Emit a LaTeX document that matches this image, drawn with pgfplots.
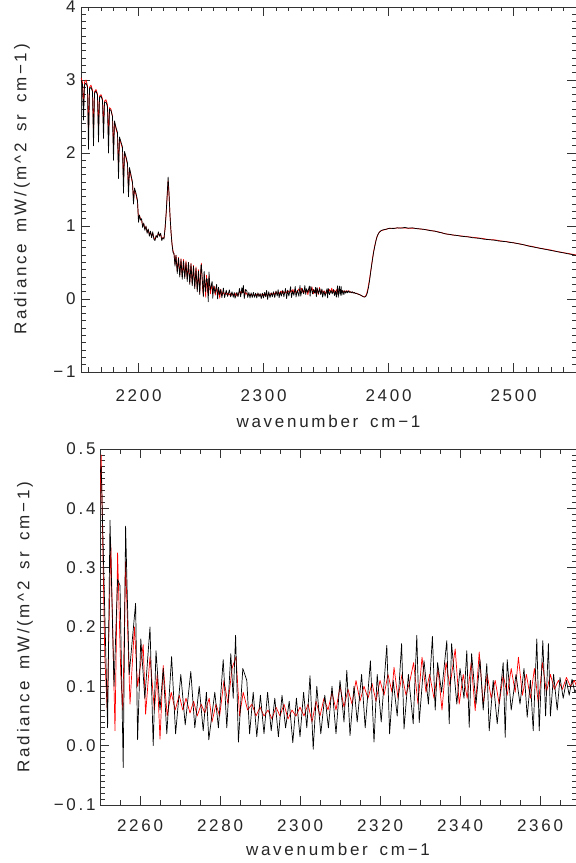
\documentclass[border=0pt]{standalone}
\usepackage{fontspec}
\setmainfont{Liberation Sans}[LetterSpace=16]
\usepackage{pgfplots}
\usepackage{pgfplotstable}
\pgfplotsset{compat=1.18}

% black spectrum
\pgfplotstableread{
x y
2154.0 3.00
2155.2 2.94
2156.0 2.45
2156.8 2.93
2158.0 2.96
2159.2 2.90
2160.0 2.05
2160.8 2.88
2162.0 2.90
2163.2 2.84
2164.0 2.10
2164.8 2.82
2166.0 2.85
2167.2 2.79
2168.0 2.15
2168.8 2.76
2170.0 2.78
2171.2 2.72
2172.0 2.20
2172.8 2.69
2174.0 2.70
2175.2 2.63
2176.0 2.00
2176.8 2.60
2178.0 2.58
2179.2 2.50
2180.0 1.90
2180.8 2.44
2182.0 2.35
2183.2 2.28
2184.0 1.65
2184.8 2.22
2186.0 2.15
2187.2 2.08
2188.0 1.45
2188.8 2.02
2190.0 1.95
2191.2 1.86
2192.0 1.40
2192.8 1.80
2194.0 1.70
2195.2 1.60
2196.0 1.30
2196.8 1.52
2198.0 1.45
2199.2 1.35
2200.0 1.05
2200.8 1.15
2201.6 1.08
2202.5 1.10
2203.3 0.98
2204.2 1.04
2205.1 0.94
2206.0 1.00
2206.9 0.90
2207.8 0.96
2208.7 0.86
2209.6 0.93
2210.5 0.84
2211.4 0.92
2212.3 0.82
2213.2 0.80
2214.1 0.87
2215.0 0.84
2215.9 0.92
2216.8 0.86
2217.7 0.90
2218.6 0.80
2219.5 0.84
2220.4 0.82
2221.3 0.98
2222.2 1.20
2223.0 1.45
2223.7 1.67
2224.4 1.45
2225.2 1.15
2226.0 0.92
2226.8 0.75
2227.6 0.64
2228.4 0.62
2229.2 0.45
2230.0 0.60
2231.0 0.35
2232.0 0.56
2233.0 0.30
2234.0 0.54
2235.0 0.27
2236.0 0.52
2237.0 0.28
2238.0 0.50
2239.0 0.24
2240.0 0.50
2241.0 0.20
2242.0 0.48
2243.0 0.18
2244.0 0.45
2245.0 0.14
2246.0 0.42
2247.0 0.10
2248.0 0.38
2249.0 0.06
2249.6 0.30
2250.0 0.46
2250.3 0.47
2251.9 0.03
2252.5 0.38
2253.5 0.10
2254.4 0.28
2255.0 0.27
2255.8 -0.037
2256.4 0.37
2257.3 0.12
2258.9 0.24
2259.4 0.01
2260.2 0.18
2261.2 0.08
2262.5 0.20
2263.3 0.00
2264.0 0.16
2265.0 0.06
2265.8 0.13
2266.7 0.02
2267.9 0.15
2268.9 0.02
2270.2 0.12
2271.3 0.035
2272.7 0.125
2273.7 0.03
2274.8 0.10
2275.8 0.025
2276.6 0.09
2277.2 0.01
2278.7 0.09
2279.6 0.03
2280.8 0.145
2281.7 0.03
2282.7 0.155
2283.3 0.08
2283.9 0.186
2284.6 0.006
2285.7 0.13
2286.7 0.11
2287.4 0.02
2288.3 0.09
2289.2 0.015
2290.1 0.085
2291.0 0.02
2291.9 0.09
2292.8 0.025
2293.7 0.08
2294.6 0.015
2295.5 0.085
2296.4 0.03
2297.3 0.075
2298.2 0.005
2299.1 0.08
2300.0 0.015
2300.9 0.09
2301.7 0.03
2302.5 0.118
2303.3 -0.006
2304.2 0.10
2305.2 0.02
2306.2 0.085
2307.1 0.03
2308.0 0.10
2309.0 0.02
2310.0 0.11
2311.0 0.04
2311.7 0.127
2312.5 0.017
2313.5 0.10
2314.3 0.04
2315.4 0.12
2316.3 0.03
2317.6 0.143
2318.5 0.006
2319.3 0.12
2320.3 0.04
2321.7 0.169
2322.4 0.02
2323.3 0.11
2324.3 0.05
2325.4 0.172
2326.0 0.028
2327.1 0.12
2328.3 0.037
2329.2 0.186
2329.8 0.039
2331.0 0.143
2332.1 0.07
2333.1 0.184
2333.8 0.06
2334.4 0.14
2335.4 0.09
2336.7 0.177
2337.3 0.037
2337.9 0.172
2339.2 0.07
2340.0 0.13
2341.0 0.08
2341.7 0.16
2342.3 0.031
2342.9 0.155
2344.0 0.07
2345.0 0.145
2345.8 0.06
2346.7 0.138
2347.3 0.025
2348.3 0.11
2349.3 0.037
2350.8 0.14
2351.3 0.014
2351.8 0.145
2352.8 0.06
2354.0 0.12
2355.0 0.07
2356.0 0.13
2356.8 0.048
2357.6 0.11
2358.3 0.025
2359.2 0.18
2359.8 0.025
2360.7 0.177
2361.4 0.05
2362.1 0.172
2362.6 0.05
2363.4 0.12
2364.3 0.06
2365.0 0.115
2365.8 0.08
2366.6 0.11
2367.3 0.085
2368.0 0.112
2368.7 0.09
2369.5 0.10
2370.3 0.085
2371.0 0.10
2371.8 0.08
2372.6 0.09
2373.4 0.075
2374.2 0.08
2375.0 0.07
2376.0 0.065
2377.0 0.06
2378.0 0.05
2379.0 0.04
2380.0 0.03
2381.0 0.025
2382.0 0.04
2383.0 0.08
2384.0 0.16
2385.0 0.27
2386.0 0.40
2387.0 0.52
2388.0 0.63
2389.0 0.72
2390.0 0.80
2391.0 0.86
2392.0 0.90
2393.0 0.92
2395.0 0.945
2398.0 0.955
2401.0 0.97
2404.0 0.965
2407.0 0.975
2410.0 0.97
2413.0 0.98
2416.0 0.97
2419.0 0.975
2422.0 0.965
2425.0 0.96
2428.0 0.955
2431.0 0.945
2434.0 0.935
2437.0 0.93
2440.0 0.915
2443.0 0.905
2446.0 0.89
2449.0 0.885
2452.0 0.875
2455.0 0.87
2458.0 0.86
2461.0 0.855
2464.0 0.85
2467.0 0.84
2470.0 0.835
2473.0 0.83
2476.0 0.82
2479.0 0.815
2482.0 0.81
2485.0 0.805
2488.0 0.795
2491.0 0.79
2494.0 0.785
2497.0 0.775
2500.0 0.77
2503.0 0.76
2506.0 0.75
2509.0 0.74
2512.0 0.725
2515.0 0.715
2518.0 0.705
2521.0 0.695
2524.0 0.685
2527.0 0.675
2530.0 0.665
2533.0 0.655
2536.0 0.645
2539.0 0.635
2542.0 0.625
2545.0 0.615
2548.0 0.605
2551.0 0.595
}\specblack

% red spectrum
\pgfplotstableread{
x y
2154.0 3.03
2155.2 2.97
2156.0 2.60
2156.8 2.97
2158.0 3.00
2159.2 2.92
2160.0 2.25
2160.8 2.90
2162.0 2.93
2163.2 2.86
2164.0 2.25
2164.8 2.84
2166.0 2.87
2167.2 2.81
2168.0 2.30
2168.8 2.78
2170.0 2.80
2171.2 2.74
2172.0 2.35
2172.8 2.71
2174.0 2.73
2175.2 2.66
2176.0 2.20
2176.8 2.62
2178.0 2.60
2179.2 2.50
2180.0 2.05
2180.8 2.42
2182.0 2.33
2183.2 2.26
2184.0 1.80
2184.8 2.20
2186.0 2.13
2187.2 2.06
2188.0 1.60
2188.8 2.00
2190.0 1.93
2191.2 1.84
2192.0 1.50
2192.8 1.78
2194.0 1.68
2195.2 1.58
2196.0 1.35
2196.8 1.50
2198.0 1.43
2199.2 1.33
2200.0 1.10
2200.8 1.14
2201.6 1.10
2202.5 1.08
2203.3 1.00
2204.2 1.03
2205.1 0.96
2206.0 0.99
2206.9 0.92
2207.8 0.95
2208.7 0.88
2209.6 0.92
2210.5 0.86
2211.4 0.90
2212.3 0.84
2213.2 0.82
2214.1 0.86
2215.0 0.85
2215.9 0.90
2216.8 0.87
2217.7 0.89
2218.6 0.82
2219.5 0.84
2220.4 0.84
2221.3 0.97
2222.2 1.18
2223.0 1.42
2223.7 1.62
2224.4 1.44
2225.2 1.14
2226.0 0.92
2226.8 0.76
2227.6 0.66
2228.4 0.62
2229.2 0.48
2230.0 0.60
2231.0 0.38
2232.0 0.57
2233.0 0.33
2234.0 0.55
2235.0 0.30
2236.0 0.54
2237.0 0.30
2238.0 0.52
2239.0 0.27
2240.0 0.50
2241.0 0.22
2242.0 0.49
2243.0 0.20
2244.0 0.46
2245.0 0.16
2246.0 0.44
2247.0 0.12
2248.0 0.40
2249.0 0.08
2249.6 0.33
2250.0 0.42
2250.3 0.49
2251.2 0.15
2251.8 0.06
2252.7 0.34
2253.75 0.025
2254.4 0.325
2255.2 0.12
2255.7 0.06
2256.4 0.31
2257.5 0.07
2258.6 0.20
2259.4 0.10
2260.8 0.17
2261.4 0.053
2262.5 0.15
2263.6 0.06
2264.3 0.12
2265.0 0.011
2265.8 0.135
2266.8 0.05
2267.8 0.09
2268.8 0.06
2269.8 0.085
2270.7 0.06
2271.5 0.08
2272.5 0.055
2273.4 0.075
2274.3 0.05
2275.3 0.07
2276.2 0.055
2277.3 0.08
2278.0 0.04
2279.0 0.07
2279.9 0.05
2281.0 0.11
2282.0 0.07
2283.0 0.13
2284.0 0.15
2284.9 0.05
2285.8 0.09
2286.9 0.06
2288.0 0.07
2289.0 0.05
2290.0 0.065
2291.0 0.05
2292.0 0.06
2293.0 0.045
2294.0 0.065
2295.0 0.05
2296.0 0.07
2297.0 0.045
2298.0 0.06
2299.0 0.05
2300.0 0.065
2301.0 0.05
2302.0 0.07
2303.0 0.04
2304.0 0.075
2305.0 0.05
2306.0 0.08
2307.0 0.06
2308.0 0.09
2309.0 0.06
2310.0 0.10
2311.0 0.065
2312.0 0.095
2313.0 0.07
2314.0 0.11
2315.0 0.075
2316.0 0.10
2317.0 0.08
2318.0 0.105
2319.0 0.075
2320.0 0.11
2321.0 0.085
2322.0 0.12
2323.0 0.09
2323.5 0.132
2324.5 0.08
2325.5 0.12
2326.5 0.085
2327.5 0.11
2328.4 0.14
2329.5 0.07
2330.5 0.149
2331.5 0.09
2332.4 0.12
2333.5 0.08
2334.5 0.13
2335.5 0.06
2336.5 0.14
2337.5 0.10
2338.8 0.163
2339.8 0.07
2340.8 0.12
2341.8 0.08
2342.8 0.14
2343.8 0.059
2344.8 0.158
2345.8 0.07
2346.8 0.12
2347.8 0.08
2348.8 0.11
2349.8 0.07
2350.8 0.12
2351.8 0.085
2352.8 0.13
2353.8 0.09
2354.6 0.149
2355.6 0.085
2356.6 0.12
2357.6 0.08
2358.6 0.13
2359.6 0.07
2360.6 0.14
2361.6 0.09
2362.6 0.12
2363.6 0.095
2364.6 0.11
2365.6 0.095
2366.6 0.115
2367.6 0.10
2368.6 0.11
2369.6 0.09
2370.6 0.095
2371.5 0.09
2372.5 0.085
2373.5 0.08
2374.5 0.075
2375.5 0.07
2376.5 0.06
2377.5 0.055
2378.5 0.045
2379.5 0.035
2380.5 0.03
2381.5 0.035
2382.5 0.07
2383.5 0.14
2384.5 0.24
2385.5 0.35
2386.5 0.47
2387.5 0.59
2388.5 0.69
2389.5 0.77
2390.5 0.84
2391.5 0.88
2392.5 0.91
2394.0 0.935
2397.0 0.95
2400.0 0.965
2405.0 0.97
2410.0 0.975
2415.0 0.97
2420.0 0.97
2425.0 0.96
2430.0 0.95
2435.0 0.935
2440.0 0.92
2445.0 0.895
2450.0 0.88
2455.0 0.87
2460.0 0.86
2465.0 0.85
2470.0 0.84
2475.0 0.83
2480.0 0.815
2485.0 0.81
2490.0 0.795
2495.0 0.785
2500.0 0.77
2505.0 0.755
2510.0 0.735
2515.0 0.72
2520.0 0.70
2525.0 0.685
2530.0 0.67
2535.0 0.65
2540.0 0.635
2545.0 0.62
2551.0 0.60
}\specred

\pgfplotsset{
    idl/.style={
        scale only axis,
        axis line style={black!80, line width=0.9pt},
        tick style={black!80, line width=0.8pt},
        major tick length=9pt,
        minor tick length=4.5pt,
        tick align=inside,
        xtick pos=both,
        ytick pos=both,
        tick label style={font=\fontsize{17}{20}\selectfont, text=black!85},
        /pgf/number format/assume math mode=true,
        /pgf/number format/1000 sep={},
        xlabel={wavenumber\hspace{0.7em}cm−1},
        ylabel={Radiance\hspace{0.7em}mW/(m\textasciicircum 2\hspace{0.7em}sr\hspace{0.7em}cm−1)},
    },
    spec/.style={line width=0.7pt, line join=round, no markers},
}

\begin{document}
\begin{tikzpicture}
    \path[use as bounding box] (0,0) rectangle (576pt,863pt);

    % upper panel: full band
    \begin{axis}[
            idl,
            at={(81pt,491pt)}, anchor=south west,
            width=495pt, height=365pt,
            xmin=2154, xmax=2550, ymin=-1, ymax=4,
            xtick={2100,2200,...,2600}, minor x tick num=9,
            ytick={-1,0,1,2,3,4}, yticklabels={−1,0,1,2,3,4}, minor y tick num=9,
            xticklabel style={yshift=-14pt},
            yticklabel style={xshift=-2pt},
            every axis x label/.style={at={(axis description cs:0.5,-0.1507)}, anchor=base,
                    font=\fontsize{17}{20}\selectfont, text=black!85},
            every axis y label/.style={at={(axis description cs:-0.1192,0.5)}, rotate=90, anchor=center,
                    font=\fontsize{17}{20}\selectfont, text=black!85},
        ]
        \addplot[spec, red] table {\specred};
        \addplot[spec, black] table {\specblack};
    \end{axis}

    % lower panel: zoom 2250-2370
    \begin{axis}[
            idl,
            at={(100pt,58pt)}, anchor=south west,
            width=476pt, height=356pt,
            xmin=2250, xmax=2369, ymin=-0.1, ymax=0.5,
            xtick={2240,2260,...,2380}, minor x tick num=3,
            ytick={-0.1,0,0.1,0.2,0.3,0.4,0.5},
            yticklabels={−0.1,0.0,0.1,0.2,0.3,0.4,0.5}, minor y tick num=9,
            xticklabel style={yshift=-11pt},
            yticklabel style={xshift=-1pt},
            every axis x label/.style={at={(axis description cs:0.5,-0.143)}, anchor=base,
                    font=\fontsize{17}{20}\selectfont, text=black!85},
            every axis y label/.style={at={(axis description cs:-0.1576,0.5)}, rotate=90, anchor=center,
                    font=\fontsize{17}{20}\selectfont, text=black!85},
        ]
        \addplot[spec, red] table {\specred};
        \addplot[spec, black] table {\specblack};
    \end{axis}
\end{tikzpicture}
\end{document}
